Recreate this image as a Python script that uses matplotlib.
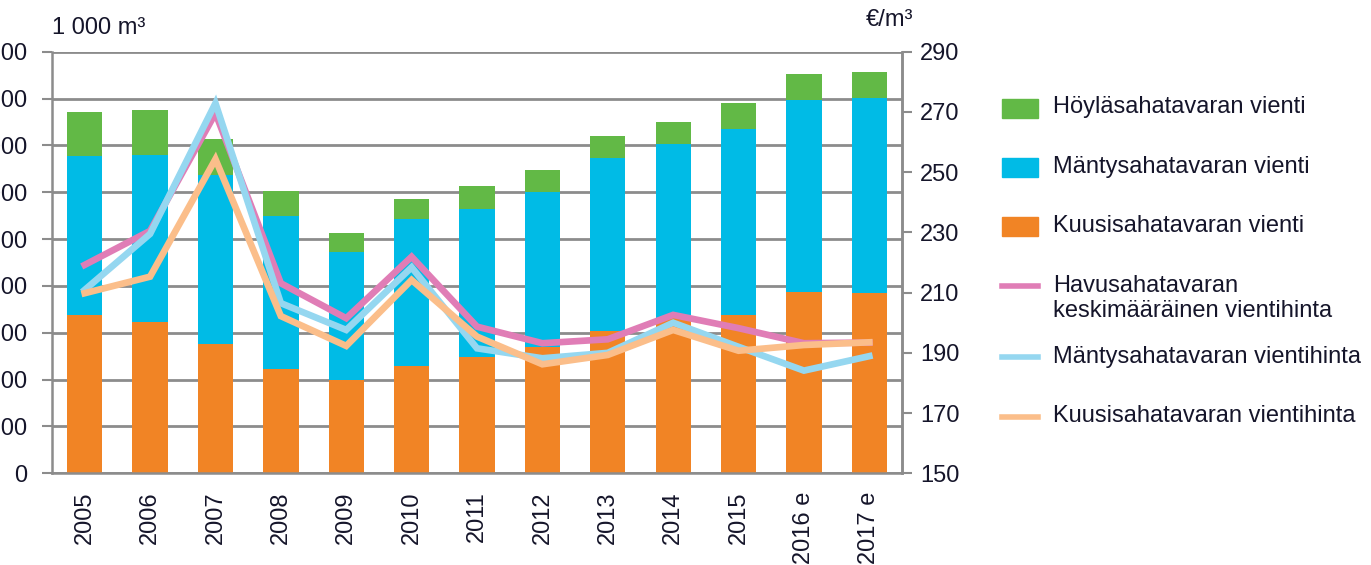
import matplotlib
matplotlib.use("Agg")
import matplotlib.pyplot as plt
from matplotlib.patches import Rectangle
from matplotlib.lines import Line2D
import numpy as np

plt.rcParams['font.family'] = ['Liberation Sans', 'DejaVu Sans']

years = ["2005", "2006", "2007", "2008", "2009", "2010", "2011", "2012",
         "2013", "2014", "2015", "2016 e", "2017 e"]
kuusi_vienti = [3380, 3240, 2760, 2220, 1990, 2290, 2480, 2700, 3040, 3320, 3380, 3860, 3840]
manty_vienti = [3390, 3560, 3610, 3280, 2740, 3130, 3160, 3300, 3690, 3710, 3970, 4110, 4170]
hoyla_vienti = [940, 950, 760, 530, 390, 430, 500, 470, 460, 460, 550, 560, 550]

havu_hinta = [219.2, 230.5, 269.6, 213.1, 201.5, 221.9, 198.7, 193.2, 194.5, 202.6, 198.2, 193.2, 193.4]
manty_hinta = [210.9, 229.5, 272.9, 206.5, 197.6, 218.4, 191.5, 188.2, 190.0, 200.0, 192.0, 184.1, 188.9]
kuusi_hinta = [209.8, 215.3, 254.3, 202.2, 192.3, 214.2, 195.4, 186.2, 189.3, 197.6, 190.7, 192.6, 193.5]

left_ticks = [0, 1000, 2000, 3000, 4000, 5000, 6000, 7000, 8000, 9000]
left_labels = ["0", "1 000", "2 000", "3 000", "4 000", "5 000", "6 000", "7 000", "8 000", "9 000"]
right_ticks = [150, 170, 190, 210, 230, 250, 270, 290]

legend_labels = ["Höyläsahatavaran vienti", "Mäntysahatavaran vienti", "Kuusisahatavaran vienti",
                 "Havusahatavaran\nkeskimääräinen vientihinta", "Mäntysahatavaran vientihinta",
                 "Kuusisahatavaran vientihinta"]

c_green = "#62B946"
c_blue = "#00BBE6"
c_orange = "#F18425"
c_pink = "#E07DB6"
c_lblue = "#95D7F0"
c_lorange = "#FBBE8A"
grid_c = "#8C8C8C"
txt_c = "#15152a"
FS = 17

W, H = 1371, 565
fig = plt.figure(figsize=(W / 100, H / 100), dpi=100)
ax = fig.add_axes([52 / W, 1 - 473.3 / H, (902 - 52) / W, (473.3 - 51.7) / H])

x = np.arange(len(years))
bw = 0.54
k = np.array(kuusi_vienti)
m = np.array(manty_vienti)
h = np.array(hoyla_vienti)
ax.bar(x, k, bw, color=c_orange, zorder=2)
ax.bar(x, m, bw, bottom=k, color=c_blue, zorder=2)
ax.bar(x, h, bw, bottom=k + m, color=c_green, zorder=2)

ax.set_xlim(-0.5, len(years) - 0.5)
ax.set_ylim(0, 9000)
ax.set_yticks(left_ticks)
ax.set_yticklabels(left_labels)
ax.yaxis.grid(True, color=grid_c, linewidth=2, zorder=0)
ax.set_axisbelow(True)
ax.set_xticks(x)
ax.set_xticklabels(years, rotation=90, va="top", ha="center")
ax.tick_params(axis="x", length=0, pad=13, labelsize=FS, labelcolor=txt_c)
ax.tick_params(axis="y", length=7, width=1.5, color=grid_c, pad=11, labelsize=FS, labelcolor=txt_c)
ax.spines["top"].set_visible(False)
for s in ["left", "bottom", "right"]:
    ax.spines[s].set_color(grid_c)
    ax.spines[s].set_linewidth(1.8)

ax2 = ax.twinx()
ax2.set_ylim(150, 290)
ax2.set_yticks(right_ticks)
ax2.plot(x, havu_hinta, color=c_pink, lw=4.8, zorder=3, solid_joinstyle="miter")
ax2.plot(x, manty_hinta, color=c_lblue, lw=4.8, zorder=4, solid_joinstyle="miter")
ax2.plot(x, kuusi_hinta, color=c_lorange, lw=4.8, zorder=5, solid_joinstyle="miter")
ax2.tick_params(axis="y", length=7, width=1.5, color=grid_c, pad=6, labelsize=FS, labelcolor=txt_c)
for s in ["top", "left", "bottom"]:
    ax2.spines[s].set_visible(False)
ax2.spines["right"].set_color(grid_c)
ax2.spines["right"].set_linewidth(1.8)

fig.text(52 / W, 1 - 28 / H, "1 000 m³", fontsize=FS, color=txt_c, va="center", ha="left")
fig.text(890 / W, 1 - 20 / H, "€/m³", fontsize=FS, color=txt_c, va="center", ha="center")

# legend
ys = [108, 167, 227, 286, 357, 417]
kinds = ["patch", "patch", "patch", "line", "line", "line"]
cols = [c_green, c_blue, c_orange, c_pink, c_lblue, c_lorange]
for yy, kd, cc, lab in zip(ys, kinds, cols, legend_labels):
    if kd == "patch":
        fig.add_artist(Rectangle((1002 / W, 1 - (yy + 9.5) / H), 36 / W, 19 / H,
                                 transform=fig.transFigure, color=cc))
    else:
        fig.add_artist(Line2D([1002 / W, 1038 / W], [1 - yy / H, 1 - yy / H],
                              transform=fig.transFigure, color=cc, lw=4))
    fig.text(1053 / W, 1 - (yy - 11.5) / H, lab, fontsize=FS, color=txt_c,
             va="top", ha="left", linespacing=1.2)

fig.savefig("out.png", dpi=100)
